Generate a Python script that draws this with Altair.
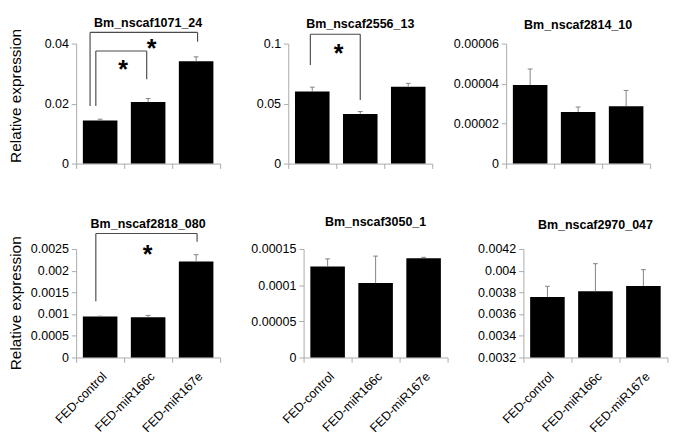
import altair as alt
import pandas as pd

FONT = "Liberation Sans"

categories = ["FED-control", "FED-miR166c", "FED-miR167e"]

titles = ["Bm_nscaf1071_24", "Bm_nscaf2556_13", "Bm_nscaf2814_10",
          "Bm_nscaf2818_080", "Bm_nscaf3050_1", "Bm_nscaf2970_047"]

means = [
    [0.0144, 0.0205, 0.0341],
    [0.0600, 0.0413, 0.0640],
    [0.0000393, 0.0000258, 0.0000287],
    [0.000946, 0.000930, 0.00221],
    [0.0001258, 0.0001032, 0.0001373],
    [0.003757, 0.003810, 0.003860],
]
errors = [
    [0.0004, 0.0012, 0.0015],
    [0.0037, 0.0021, 0.0029],
    [0.0000080, 0.0000025, 0.0000079],
    [0.000005, 0.000040, 0.000160],
    [0.0000106, 0.0000370, 0.0000012],
    [0.000100, 0.000255, 0.000150],
]
y_ticks = [
    [0, 0.02, 0.04],
    [0, 0.05, 0.1],
    [0, 0.00002, 0.00004, 0.00006],
    [0, 0.0005, 0.001, 0.0015, 0.002, 0.0025],
    [0, 0.00005, 0.0001, 0.00015],
    [0.0032, 0.0034, 0.0036, 0.0038, 0.004, 0.0042],
]

# significance brackets (panel index, ends in category units, heights in data units)
sig_panel = [0, 0, 1, 3]
sig_x1 = [0.29, 0.41, 0.46, 0.41]
sig_x2 = [2.53, 1.47, 1.50, 2.52]
sig_top = [0.04374, 0.03754, 0.1078, 0.002857]
sig_left = [0.0192, 0.0192, 0.0822, 0.001295]
sig_right = [0.04064, 0.02816, 0.053, 0.00267]
sig_star_x = [1.57, 0.98, 1.05, 1.49]
sig_star_top = [0.04234, 0.03517, 0.1018, 0.002634]

BAR_HALF = 0.36
CAP_HALF = 0.05
AXIS_GREY = "#a8a8a8"
PANEL_W = 150

label_expr = " : ".join(
    f"datum.value == {i + 0.5} ? '{c}'" for i, c in enumerate(categories)
) + " : ''"


def panel(k, bottom_row, first_col, height, title_offset, extent, title_y=56):
    lo, hi = y_ticks[k][0], y_ticks[k][-1]
    pos = [i + 0.5 for i in range(len(categories))]
    df = pd.DataFrame({"cat": categories, "pos": pos,
                       "mean": means[k], "err": errors[k]})
    df["x0"] = df["pos"] - BAR_HALF
    df["x1"] = df["pos"] + BAR_HALF
    df["base"] = lo
    df["top"] = df["mean"] + df["err"]
    df["c0"] = df["pos"] - CAP_HALF
    df["c1"] = df["pos"] + CAP_HALF

    xs = alt.Scale(domain=[0, 3], nice=False, zero=False)
    ys = alt.Scale(domain=[lo, hi], nice=False, zero=False)

    x_axis = alt.Axis(
        values=[0, 0.5, 1, 1.5, 2, 2.5, 3], labelExpr=label_expr,
        labels=bottom_row, labelAngle=315, labelFontSize=13, labelFont=FONT,
        labelColor="#000", labelPadding=8, labelOverlap=False, labelFlush=False,
        tickOpacity={"condition": {"test": "datum.value % 1 != 0", "value": 0}, "value": 1},
        tickColor=AXIS_GREY, tickSize=5, domainColor=AXIS_GREY, grid=False, title=None,
    )
    yargs = dict(
        values=y_ticks[k], labelExpr="'' + datum.value", labelFontSize=13,
        labelFont=FONT, labelColor="#000", labelPadding=3, labelFlush=False,
        labelOverlap=False, tickColor=AXIS_GREY, tickSize=5,
        domainColor=AXIS_GREY, grid=False,
    )
    if first_col:
        yargs.update(title="Relative expression", titleFont=FONT, titleFontSize=16,
                     titleFontWeight="normal", titleColor="#000", titleAngle=270,
                     titleBaseline="bottom", titleX=-55, titleY=title_y)
    else:
        yargs.update(title=None, minExtent=extent, maxExtent=extent)
    y_axis = alt.Axis(**yargs)

    base = alt.Chart(df)
    bars = base.mark_bar(color="black").encode(
        x=alt.X("x0:Q", scale=xs, axis=x_axis), x2="x1",
        y=alt.Y("mean:Q", scale=ys, axis=y_axis), y2="base",
    )
    err = base.mark_rule(color="#808080", strokeWidth=1).encode(
        x=alt.X("pos:Q", scale=xs, axis=x_axis),
        y=alt.Y("mean:Q", scale=ys, axis=y_axis), y2="top",
    )
    cap = base.mark_rule(color="#808080", strokeWidth=1).encode(
        x=alt.X("c0:Q", scale=xs, axis=x_axis), x2="c1",
        y=alt.Y("top:Q", scale=ys, axis=y_axis),
    )
    layers = [bars, err, cap]

    idx = [j for j, p in enumerate(sig_panel) if p == k]
    if idx:
        sdf = pd.DataFrame({
            "x1": [sig_x1[j] for j in idx], "x2": [sig_x2[j] for j in idx],
            "top": [sig_top[j] for j in idx], "left": [sig_left[j] for j in idx],
            "right": [sig_right[j] for j in idx],
            "sx": [sig_star_x[j] for j in idx], "sy": [sig_star_top[j] for j in idx],
        })
        sb = alt.Chart(sdf)
        line = dict(color="#4a4a4a", strokeWidth=1.2)
        layers += [
            sb.mark_rule(**line).encode(
                x=alt.X("x1:Q", scale=xs, axis=x_axis),
                y=alt.Y("left:Q", scale=ys, axis=y_axis), y2="top"),
            sb.mark_rule(**line).encode(
                x=alt.X("x2:Q", scale=xs, axis=x_axis),
                y=alt.Y("right:Q", scale=ys, axis=y_axis), y2="top"),
            sb.mark_rule(**line).encode(
                x=alt.X("x1:Q", scale=xs, axis=x_axis), x2="x2",
                y=alt.Y("top:Q", scale=ys, axis=y_axis)),
            sb.mark_text(text="*", font=FONT, fontSize=26, fontWeight="bold",
                         baseline="top", align="center",
                         color="black").encode(
                x=alt.X("sx:Q", scale=xs, axis=x_axis),
                y=alt.Y("sy:Q", scale=ys, axis=y_axis)),
        ]

    return alt.layer(*layers).properties(
        width=PANEL_W, height=height,
        title=alt.TitleParams(titles[k], font=FONT, fontSize=13, fontWeight="bold",
                              color="#000", anchor="middle", frame="group",
                              offset=title_offset),
    )


top_row = alt.hconcat(
    panel(0, False, True, 125, -1.5, None, title_y=54),
    panel(1, False, False, 125, 2.5, 60),
    panel(2, False, False, 125, 6.5, 66),
    spacing=10,
)
bottom_row = alt.hconcat(
    panel(3, True, True, 113, 2.5, None, title_y=56),
    panel(4, True, False, 113, 14.5, 67),
    panel(5, True, False, 113, 11.5, 59),
    spacing=10,
)

chart = alt.vconcat(top_row, bottom_row, spacing=48).properties(
    padding={"left": 0, "top": 0, "right": 0, "bottom": 0}
).configure_view(stroke=None)

chart.save("out.html", embed_options={"renderer": "svg", "actions": False})
